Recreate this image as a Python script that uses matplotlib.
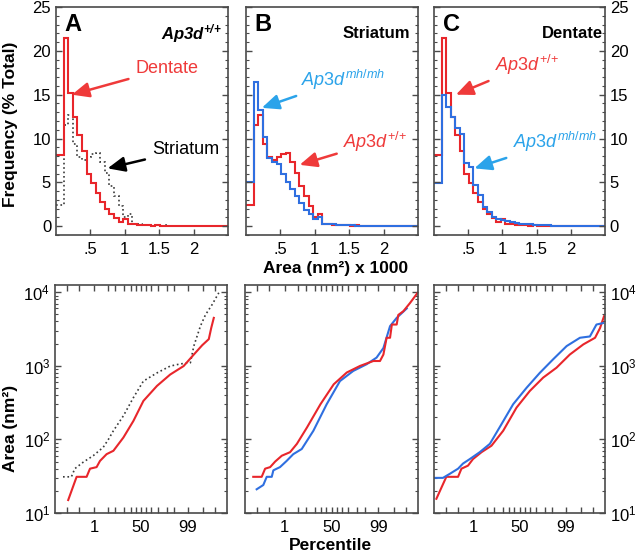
from statistics import NormalDist

import matplotlib
matplotlib.use("Agg")
import matplotlib.pyplot as plt
import numpy as np
from matplotlib.ticker import FixedLocator, MultipleLocator, NullFormatter


plt.rcParams["font.family"] = ["Liberation Sans", "DejaVu Sans"]
plt.rcParams["mathtext.fontset"] = "custom"
plt.rcParams["mathtext.rm"] = "Liberation Sans"
plt.rcParams["mathtext.it"] = "Liberation Sans:italic"
plt.rcParams["mathtext.bf"] = "Liberation Sans:bold"
plt.rcParams["mathtext.bfit"] = "Liberation Sans:italic:bold"

RED = "#e8262b"
BLUE = "#2f6fe0"
RED_TXT = "#ef3a3a"
BLUE_TXT = "#2ba3ea"
GREY = "#3a3a3a"
SPINE = "#4a4a4a"

# ---- histogram data (% of total), bins of area x 1000 nm^2 ----
# first value = leading bin from 0 to FIRST_EDGE
FIRST_EDGE = 0.11
BIN_W = 0.0667

striatum_wt_hist = [2.4, 11.6, 12.7, 9.4, 7.9, 7.6, 7.9, 8.2, 8.4, 7.3, 6.1, 4.6, 3.5, 2.3,
                    1.0, 1.4, 0.3, 0.2, 0.15, 0.12, 0.1, 0.1, 0.08, 0.1, 0.08, 0.06, 0.05,
                    0.06, 0.05, 0.05, 0.04, 0.06, 0.04, 0.03, 0.03, 0.03, 0.02]
dentate_wt_hist = [8.1, 21.5, 15.2, 12.4, 10.4, 8.6, 6.0, 4.9, 3.8, 2.8, 2.0, 1.4, 0.9, 0.5,
                   0.8, 0.3, 0.2, 0.15, 0.12, 0.1, 0.08, 0.1, 0.07, 0.06, 0.05, 0.05, 0.04,
                   0.04, 0.03, 0.04, 0.03, 0.03, 0.02, 0.02, 0.02, 0.02, 0.02]
striatum_mh_hist = [5.0, 16.4, 13.2, 10.2, 7.8, 7.3, 7.1, 6.0, 5.0, 4.3, 3.5, 2.7, 1.9, 1.4,
                    0.8, 1.0, 0.3, 0.25, 0.2, 0.15, 0.12, 0.1, 0.1, 0.08, 0.08, 0.06, 0.05,
                    0.05, 0.04, 0.04, 0.03, 0.03, 0.03, 0.02, 0.02, 0.02, 0.02]
dentate_mh_hist = [4.9, 15.0, 13.6, 12.4, 11.2, 10.5, 7.2, 6.8, 4.7, 3.6, 2.2, 1.6, 1.1, 0.8,
                   0.7, 0.6, 0.5, 0.4, 0.3, 0.25, 0.2, 0.15, 0.12, 0.1, 0.1, 0.08, 0.07,
                   0.06, 0.05, 0.05, 0.04, 0.04, 0.03, 0.03, 0.03, 0.02, 0.02]

# ---- cumulative plots: normal-quantile (z) of percentile vs area (nm^2) ----
a_striatum_z = [-3.9, -3.48, -3.31, -2.89, -2.39, -1.89, -1.63, -1.38, -0.88, -0.38, 0.12,
                0.8, 1.46, 1.97, 2.47, 2.64, 2.97, 3.22, 3.56, 3.89]
a_striatum_v = [31, 31, 40, 49, 60, 78, 100, 131, 209, 369, 619, 800, 990, 1060, 1100, 1850,
                3450, 4900, 6800, 9800]
a_dentate_z = [-3.64, -3.22, -2.72, -2.55, -2.22, -2.05, -1.72, -1.38, -0.88, -0.38, 0.12,
               0.8, 1.46, 2.13, 2.64, 3.06, 3.39, 3.51, 3.64]
a_dentate_v = [15, 31, 31, 40, 42, 51, 63, 70, 106, 178, 333, 533, 760, 990, 1420, 1900,
               2300, 3250, 4470]

b_wt_z = [-3.89, -3.47, -3.3, -3.05, -2.8, -2.47, -2.06, -1.72, -1.22, -0.55, 0.11, 0.76,
          1.42, 2.08, 2.41, 2.58, 2.74, 2.91, 3.0, 3.24, 3.32, 3.57, 3.9, 4.28]
b_wt_v = [31, 31, 40, 42, 50, 60, 67, 87, 145, 300, 560, 810, 995, 1160, 1160, 1420, 2400,
          2400, 3630, 3630, 4900, 5500, 7100, 9800]
b_mh_z = [-3.72, -3.39, -3.22, -2.97, -2.89, -2.56, -2.23, -1.9, -1.48, -0.9, -0.24, 0.42,
          1.08, 1.75, 2.24, 2.58, 2.91, 3.24, 3.74]
b_mh_v = [21, 24, 31, 31, 38, 42, 51, 63, 74, 131, 300, 619, 850, 1050, 1290, 1740, 3450,
          4470, 6000]

c_wt_z = [-4.18, -3.68, -3.09, -2.92, -2.59, -2.34, -1.91, -1.41, -0.82, -0.15, 0.52, 1.19,
          1.86, 2.53, 3.21, 3.8, 4.05, 4.25]
c_wt_v = [15.6, 31, 31, 40, 44, 54, 67, 82, 131, 270, 455, 690, 940, 1420, 1950, 2400,
          3250, 4700]
c_mh_z = [-4.26, -3.85, -3.51, -3.09, -2.84, -2.5, -2.0, -1.49, -0.9, -0.32, 0.35, 1.02,
          1.7, 2.37, 3.04, 3.54, 3.87, 4.2]
c_mh_v = [30, 30, 34, 40, 47, 54, 67, 87, 162, 300, 500, 800, 1230, 1850, 2400, 2500,
          3630, 3800]

PCT_TICKS = [0.01, 0.1, 1, 5, 10, 20, 30, 40, 50, 60, 70, 80, 90, 95, 99, 99.9, 99.99]
PCT_LABELED = {1: "1", 50: "50", 99: "99"}


def hist_edges(values):
    return np.concatenate([[0.0], FIRST_EDGE + BIN_W * np.arange(len(values))])


def px_axes(fig, left, top, right, bottom):
    W, H = 640, 554
    return fig.add_axes([left / W, 1 - bottom / H, (right - left) / W, (bottom - top) / H])


def style_spines(ax):
    for sp in ax.spines.values():
        sp.set_color(SPINE)
        sp.set_linewidth(1.2)


def style_hist_axes(ax, side):
    ax.set_xlim(0, 2.5)
    ax.set_ylim(-1, 25)
    ax.set_xticks([0.5, 1, 1.5, 2])
    ax.set_xticklabels([".5", "1", "1.5", "2"])
    ax.yaxis.set_major_locator(MultipleLocator(5))
    ax.yaxis.set_minor_locator(MultipleLocator(1))
    ax.tick_params(axis="x", direction="in", length=4, width=1, color=SPINE,
                   labelsize=12, pad=5)
    ax.tick_params(axis="y", which="both", direction="in", left=True, right=True,
                   color=SPINE, labelsize=12, labelleft=(side == "left"),
                   labelright=(side == "right"))
    ax.tick_params(axis="y", which="major", length=4, width=1)
    ax.tick_params(axis="y", which="minor", length=2.5, width=0.8)
    style_spines(ax)


def style_cum_axes(ax, side):
    ax.set_yscale("log")
    ax.set_ylim(10, 12500)
    ax.set_xlim(-4.3, 4.3)
    nd = NormalDist()
    ax.xaxis.set_major_locator(FixedLocator([nd.inv_cdf(p / 100) for p in PCT_TICKS]))
    ax.set_xticklabels([PCT_LABELED.get(p, "") for p in PCT_TICKS])
    ax.tick_params(axis="x", direction="in", top=True, bottom=True, length=4, width=1,
                   color=SPINE, labelsize=12, pad=5)
    ax.tick_params(axis="y", which="both", direction="in", left=True, right=True,
                   color=SPINE, labelsize=12, labelleft=(side == "left"),
                   labelright=(side == "right"))
    ax.tick_params(axis="y", which="major", length=4, width=1)
    ax.tick_params(axis="y", which="minor", length=2.5, width=0.8)
    if side is None:
        ax.yaxis.set_major_formatter(NullFormatter())
    ax.yaxis.set_minor_formatter(NullFormatter())
    style_spines(ax)


def arrow_note(ax, label, text_xy, head_xy, color, **kw):
    ax.annotate(label, xy=head_xy, xytext=text_xy, ha="center", va="center",
                color=color, fontsize=13,
                arrowprops=dict(arrowstyle="-|>,head_length=0.8,head_width=0.35",
                                color=color, lw=1.8, shrinkA=3, shrinkB=0), **kw)


fig = plt.figure(figsize=(6.4, 5.54), dpi=100)

ax_a = px_axes(fig, 56, 7, 228, 235)
ax_b = px_axes(fig, 246, 7, 418, 235)
ax_c = px_axes(fig, 434, 7, 605, 235)
ax_d = px_axes(fig, 55, 285, 227, 513)
ax_e = px_axes(fig, 245, 285, 418, 513)
ax_f = px_axes(fig, 434, 285, 605, 513)

# top row: histograms
ax_a.stairs(striatum_wt_hist, hist_edges(striatum_wt_hist), baseline=None, color=GREY,
            linestyle=":", linewidth=1.2)
ax_a.stairs(dentate_wt_hist, hist_edges(dentate_wt_hist), baseline=None, color=RED,
            linewidth=1.5)
ax_b.stairs(striatum_wt_hist, hist_edges(striatum_wt_hist), baseline=None, color=RED,
            linewidth=1.5)
ax_b.stairs(striatum_mh_hist, hist_edges(striatum_mh_hist), baseline=None, color=BLUE,
            linewidth=1.5)
ax_c.stairs(dentate_wt_hist, hist_edges(dentate_wt_hist), baseline=None, color=RED,
            linewidth=1.5)
ax_c.stairs(dentate_mh_hist, hist_edges(dentate_mh_hist), baseline=None, color=BLUE,
            linewidth=1.5)

style_hist_axes(ax_a, "left")
style_hist_axes(ax_b, None)
style_hist_axes(ax_c, "right")

WT = r"$\mathit{Ap3d}^{\mathit{{+}/{+}}}$"
MH = r"$\mathit{Ap3d}^{\mathit{mh/mh}}$"

for ax, letter in [(ax_a, "A"), (ax_b, "B"), (ax_c, "C")]:
    ax.text(0.05, 0.975, letter, transform=ax.transAxes, fontsize=17, fontweight="bold",
            ha="left", va="top")
ax_a.text(0.965, 0.885, r"$\mathbfit{Ap3d}^{\mathbfit{{+}/{+}}}$", transform=ax_a.transAxes,
          fontsize=12, ha="right", va="center")
ax_b.text(0.955, 0.885, "Striatum", transform=ax_b.transAxes, fontsize=12,
          fontweight="bold", ha="right", va="center")
ax_c.text(0.99, 0.885, "Dentate", transform=ax_c.transAxes, fontsize=12,
          fontweight="bold", ha="right", va="center")

arrow_note(ax_a, "Dentate", (1.61, 18.0), (0.23, 15.0), RED_TXT)
arrow_note(ax_a, "Striatum", (1.88, 8.7), (0.75, 6.6), "black")
arrow_note(ax_b, MH, (1.41, 16.7), (0.23, 13.5), BLUE_TXT)
arrow_note(ax_b, WT, (1.88, 9.6), (0.78, 7.0), RED_TXT)
arrow_note(ax_c, WT, (1.36, 18.4), (0.32, 15.0), RED_TXT)
arrow_note(ax_c, MH, (1.77, 9.6), (0.59, 6.6), BLUE_TXT)

# bottom row: cumulative probability plots
ax_d.plot(a_striatum_z, a_striatum_v, color=GREY, linestyle=":", linewidth=1.2)
ax_d.plot(a_dentate_z, a_dentate_v, color=RED, linewidth=1.5)
ax_e.plot(b_mh_z, b_mh_v, color=BLUE, linewidth=1.5)
ax_e.plot(b_wt_z, b_wt_v, color=RED, linewidth=1.5)
ax_f.plot(c_wt_z, c_wt_v, color=RED, linewidth=1.5)
ax_f.plot(c_mh_z, c_mh_v, color=BLUE, linewidth=1.5)

style_cum_axes(ax_d, "left")
style_cum_axes(ax_e, None)
style_cum_axes(ax_f, "right")

fig.text(11 / 640, 1 - 124 / 554, "Frequency (% Total)", rotation=90, ha="center",
         va="center", fontsize=12.5, fontweight="bold")
fig.text(336 / 640, 1 - 269 / 554, "Area (nm²) x 1000", ha="center", va="center",
         fontsize=12.5, fontweight="bold")
fig.text(11 / 640, 1 - 428 / 554, "Area (nm²)", rotation=90, ha="center", va="center",
         fontsize=12.5, fontweight="bold")
fig.text(330 / 640, 1 - 546 / 554, "Percentile", ha="center", va="center",
         fontsize=12.5, fontweight="bold")

fig.savefig("out.png", dpi=100)
plt.close(fig)
